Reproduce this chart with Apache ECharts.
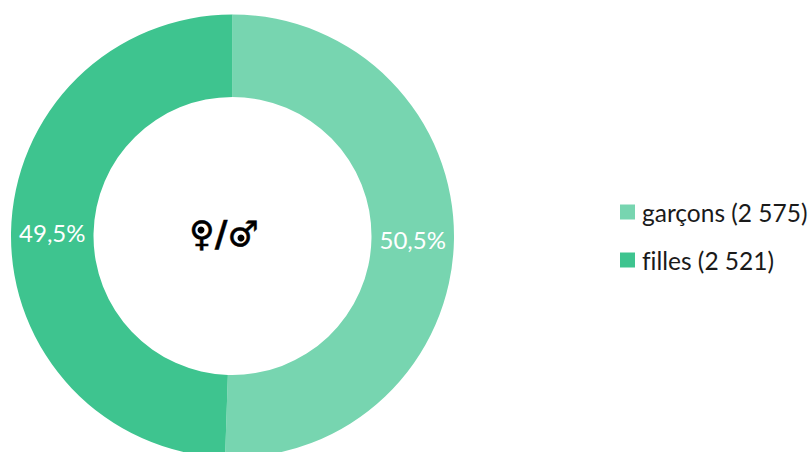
<!DOCTYPE html>
<html>
<head>
<meta charset="utf-8">
<style>
  html, body { margin: 0; padding: 0; background: #fff; }
  #chart { width: 811px; height: 452px; }
  text { font-variant-ligatures: none; }
</style>
<script src="https://cdn.jsdelivr.net/npm/echarts@6/dist/echarts.min.js"></script>
</head>
<body>
<div id="chart"></div>
<script>
const categories = ['garçons', 'filles']
const values = [2575, 2521]
const colors = ['#77D5B0', '#3EC48F']
const centerText = '♀/♂'

const fmtCount = v => String(v).replace(/\B(?=(\d{3})+$)/g, ' ')

const myChart = echarts.init(document.getElementById('chart'), null, { renderer: 'svg' })

myChart.setOption({
  animation: false,
  color: colors,
  textStyle: { fontFamily: 'Lato' },
  title: {
    text: centerText,
    left: 219,
    top: 211,
    textAlign: 'center',
    textStyle: {
      fontFamily: 'DejaVu Sans',
      fontWeight: 'bold',
      fontSize: 35,
      color: '#000',
      textBorderColor: '#000',
      textBorderWidth: 0.4,
    },
  },
  // the dots inside the two symbols, the font has none
  graphic: [
    { type: 'circle', shape: { cx: 201, cy: 230, r: 3.5 }, style: { fill: '#000' } },
    { type: 'circle', shape: { cx: 241, cy: 238, r: 3.5 }, style: { fill: '#000' } },
  ],
  legend: {
    orient: 'vertical',
    left: 615,
    top: 194,
    padding: 5,
    icon: 'rect',
    itemWidth: 15,
    itemHeight: 15,
    itemGap: 22,
    itemStyle: { borderWidth: 0 },
    formatter: name => `${name} (${fmtCount(values[categories.indexOf(name)])})`,
    textStyle: {
      fontFamily: 'Lato',
      fontSize: 24.5,
      color: '#1a1a1a',
      lineHeight: 26,
      padding: [0, 0, 0, 2],
    },
    data: categories,
  },
  series: [
    {
      type: 'pie',
      center: [232.5, 236],
      radius: [139, 221.5],
      startAngle: 90,
      clockwise: true,
      percentPrecision: 1,
      silent: true,
      label: {
        show: true,
        position: 'inside',
        color: '#fff',
        fontFamily: 'Lato',
        fontSize: 24,
        formatter: p => p.percent.toFixed(1).replace('.', ',') + '%',
      },
      labelLine: { show: false },
      itemStyle: { borderWidth: 0 },
      data: categories.map((name, i) => ({
        name,
        value: values[i],
        label: { offset: [i ? 3 : -3, 0] },
      })),
    },
  ],
})
</script>
</body>
</html>
